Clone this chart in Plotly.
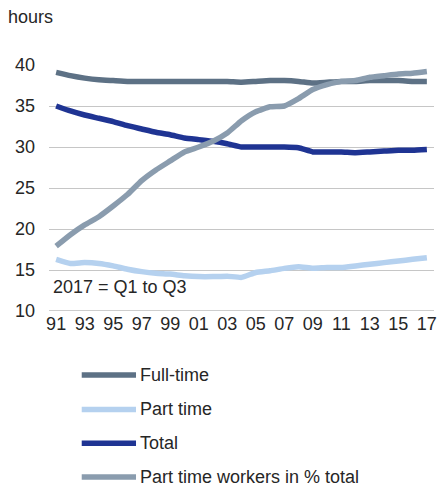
import plotly.graph_objects as go

years = list(range(1991, 2018))
full_time = [39.1, 38.7, 38.4, 38.2, 38.1, 38.0, 38.0, 38.0, 38.0, 38.0, 38.0, 38.0, 38.0, 37.9,
             38.0, 38.1, 38.1, 38.0, 37.8, 37.9, 38.0, 38.0, 38.1, 38.1, 38.1, 38.0, 38.0]
part_time = [16.3, 15.8, 15.9, 15.8, 15.5, 15.1, 14.8, 14.6, 14.5, 14.3, 14.2, 14.2, 14.25, 14.1,
             14.7, 14.9, 15.2, 15.4, 15.2, 15.3, 15.3, 15.5, 15.7, 15.9, 16.1, 16.3, 16.5]
total = [35.0, 34.4, 33.9, 33.5, 33.1, 32.6, 32.2, 31.8, 31.5, 31.1, 30.9, 30.7, 30.4, 30.0,
         30.0, 30.0, 30.0, 29.9, 29.4, 29.4, 29.4, 29.3, 29.4, 29.5, 29.6, 29.6, 29.7]
pt_share = [17.9, 19.3, 20.5, 21.5, 22.8, 24.2, 25.9, 27.2, 28.3, 29.4, 30.0, 30.7, 31.7, 33.2,
            34.3, 34.9, 35.0, 35.9, 37.0, 37.6, 38.0, 38.1, 38.5, 38.7, 38.9, 39.0, 39.2]

tick_years = list(range(1991, 2018, 2))
tick_text = [f"{y % 100:02d}" for y in tick_years]

series = [
    ("Full-time", full_time, "#5d7185"),
    ("Part time", part_time, "#b5d1ef"),
    ("Total", total, "#1f3493"),
    ("Part time workers in % total", pt_share, "#8a9cae"),
]

font_family = "Liberation Sans, Arial, sans-serif"
text_color = "#262626"
fs = 18

fig = go.Figure()
for name, vals, color in series:
    fig.add_trace(go.Scatter(
        x=years, y=vals, mode="lines", name=name, showlegend=False,
        line=dict(color=color, width=5.5, shape="spline", smoothing=0.4),
    ))

# Legend below the plot, one row per series (paper coordinates)
legend_rows_y = [-0.260, -0.400, -0.538, -0.675]
shapes = [dict(type="line", xref="paper", yref="y", x0=0, x1=1, y0=10, y1=10,
               line=dict(color="#9a9a9a", width=1))]
annotations = []
for (name, _, color), ly in zip(series, legend_rows_y):
    shapes.append(dict(type="line", xref="paper", yref="paper",
                       x0=0.085, x1=0.226, y0=ly, y1=ly,
                       line=dict(color=color, width=5.5)))
    annotations.append(dict(text=name, xref="paper", yref="paper", x=0.232, y=ly,
                            xanchor="left", yanchor="middle", showarrow=False,
                            font=dict(size=fs, color=text_color)))

annotations += [
    dict(text="hours", xref="paper", yref="paper", x=-0.111, y=1.195,
         xanchor="left", yanchor="middle", showarrow=False,
         font=dict(size=fs, color=text_color)),
    dict(text="2017 = Q1 to Q3", xref="paper", yref="y", x=0.005, y=12.9,
         xanchor="left", yanchor="middle", showarrow=False,
         font=dict(size=fs, color=text_color)),
]

fig.update_layout(
    width=441, height=486,
    margin=dict(l=49, r=4, t=65, b=175),
    paper_bgcolor="white", plot_bgcolor="white",
    font=dict(family=font_family, size=fs, color=text_color),
    showlegend=False,
    xaxis=dict(
        range=[1990.5, 2017.5], tickvals=tick_years, ticktext=tick_text,
        showgrid=False, zeroline=False, showline=False, ticks="",
        tickfont=dict(size=fs, color=text_color),
    ),
    yaxis=dict(
        range=[10, 40], dtick=5, showgrid=True, gridcolor="#c6c6c6", gridwidth=1,
        zeroline=False, showline=False, ticks="", ticklabelstandoff=13,
        tickfont=dict(size=fs, color=text_color),
    ),
    shapes=shapes,
    annotations=annotations,
)

fig.write_html("out.html")
